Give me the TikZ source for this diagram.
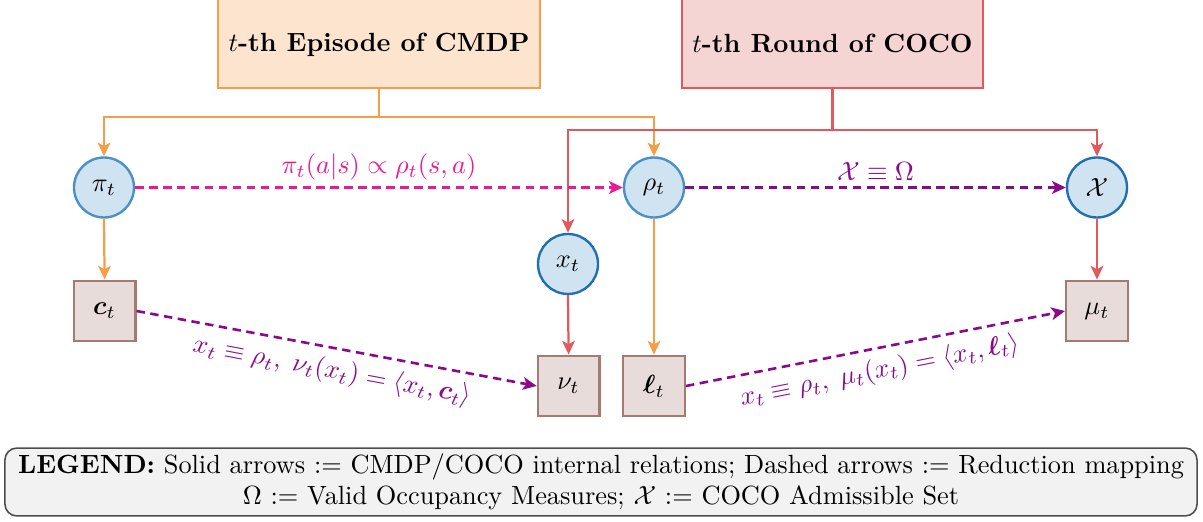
\documentclass[tikz,border=0pt]{standalone}
\usepackage{amsmath,amssymb,bm}
\usetikzlibrary{arrows.meta}
\definecolor{orL}{HTML}{F59E47}
\definecolor{orF}{HTML}{FDE4CE}
\definecolor{rdL}{HTML}{E05A5C}
\definecolor{rdF}{HTML}{F5D4D4}
\definecolor{ciF}{HTML}{D0E3F0}
\definecolor{ciA}{HTML}{4A90C8}
\definecolor{ciB}{HTML}{1F6FB2}
\definecolor{sqF}{HTML}{E8DCDA}
\definecolor{sqL}{HTML}{A57A70}
\definecolor{pinkC}{HTML}{EA1A92}
\definecolor{purpC}{HTML}{8B0A8B}
\definecolor{lgF}{HTML}{F2F2F2}
\definecolor{lgL}{HTML}{4D4D4D}
\begin{document}
\begin{tikzpicture}[x=0.38pt,y=-0.38pt,
  tip/.style={-{Stealth[length=5.2pt,width=4.8pt,inset=1.3pt]}},
  titlebox/.style={draw,line width=0.8pt,minimum width=#1,minimum height=45.6pt,anchor=south,inner sep=0pt},
  circA/.style={circle,draw=ciA,fill=ciF,line width=0.9pt,minimum size=22.8pt,inner sep=0pt},
  circB/.style={circle,draw=ciB,fill=ciF,line width=0.9pt,minimum size=22.8pt,inner sep=0pt},
  sqbox/.style={rectangle,draw=sqL,fill=sqF,line width=0.9pt,minimum width=23.4pt,minimum height=23pt,inner sep=0pt},
  orline/.style={draw=orL,line width=0.85pt},
  rdline/.style={draw=rdL,line width=0.85pt},
  pinkdash/.style={draw=pinkC,line width=1pt,dash pattern=on 3.2pt off 2.1pt},
  purpdash/.style={draw=purpC,line width=1pt,dash pattern=on 3.2pt off 2.1pt}
]
\useasboundingbox (0,0) rectangle (1203,522);

% title boxes
\node[titlebox=122.4pt,draw=orL,fill=orF] (ep) at (379,89) {};
\node[anchor=base] (eptxt) at (379,52) {\textbf{$t$-th Episode of CMDP}};
\node[titlebox=114.4pt,draw=rdL,fill=rdF] (rd) at (832.5,89) {};
\node[anchor=base] (rdtxt) at (832.5,53) {\textbf{$t$-th Round of COCO}};

% circles
\node[circA] (pi) at (104,187.5) {$\pi_t$};
\node[circA] (rho) at (654,187.5) {$\rho_t$};
\node[circB] (X) at (1097,187.5) {$\mathcal{X}$};
\node[circB] (xt) at (568,264) {$x_t$};

% squares
\node[sqbox] (c) at (104.6,311) {$\bm{c}_t$};
\node[sqbox] (nu) at (568.6,386) {$\nu_t$};
\node[sqbox] (l) at (654,386) {$\bm{\ell}_t$};
\node[sqbox] (mu) at (1097,311) {$\mu_t$};

% junctions
\coordinate (epj) at (379,117);
\coordinate (rdj) at (832.5,130);

% orange connectors
\draw[orline] (ep.south) -- (epj);
\draw[orline,tip] (epj) -| (pi.north);
\draw[orline,tip] (epj) -| (rho.north);
\draw[orline,tip] (pi.south) -- (c.north);
\draw[orline,tip] (rho.south) -- (l.north);

% red connectors
\draw[rdline] (rd.south) -- (rdj);
\draw[rdline,tip] (rdj) -| (xt.north);
\draw[rdline,tip] (rdj) -| (X.north);
\draw[rdline,tip] (xt.south) -- (nu.north);
\draw[rdline,tip] (X.south) -- (mu.north);

% dashed reduction mappings
\draw[pinkdash,tip] (pi.east) -- node[above=-1pt,text=pinkC] {$\pi_t(a|s) \propto \rho_t(s,a)$} (rho.west);
\draw[purpdash,tip] (rho.east) -- node[above=-1pt,text=purpC] {$\mathcal{X} \equiv \Omega$} (X.west);
\draw[purpdash,tip] (c.east) -- node[below,sloped,text=purpC] {$x_t \equiv \rho_t,\;\nu_t(x_t) = \langle x_t, \bm{c}_t\rangle$} (nu.west);
\draw[purpdash,tip] (l.east) -- node[below,sloped,text=purpC] {$x_t \equiv \rho_t,\;\mu_t(x_t) = \langle x_t, \bm{\ell}_t\rangle$} (mu.west);

% legend
\node[draw=lgL,fill=lgF,line width=0.6pt,rounded corners=4.5pt,minimum width=453pt,minimum height=25.8pt,align=center,inner sep=0pt] (legend) at (601,482)
  {\textbf{LEGEND:} Solid arrows $:=$ CMDP/COCO internal relations; Dashed arrows $:=$ Reduction mapping\\
   $\Omega$ $:=$ Valid Occupancy Measures; $\mathcal{X}$ $:=$ COCO Admissible Set};
\end{tikzpicture}
\end{document}
